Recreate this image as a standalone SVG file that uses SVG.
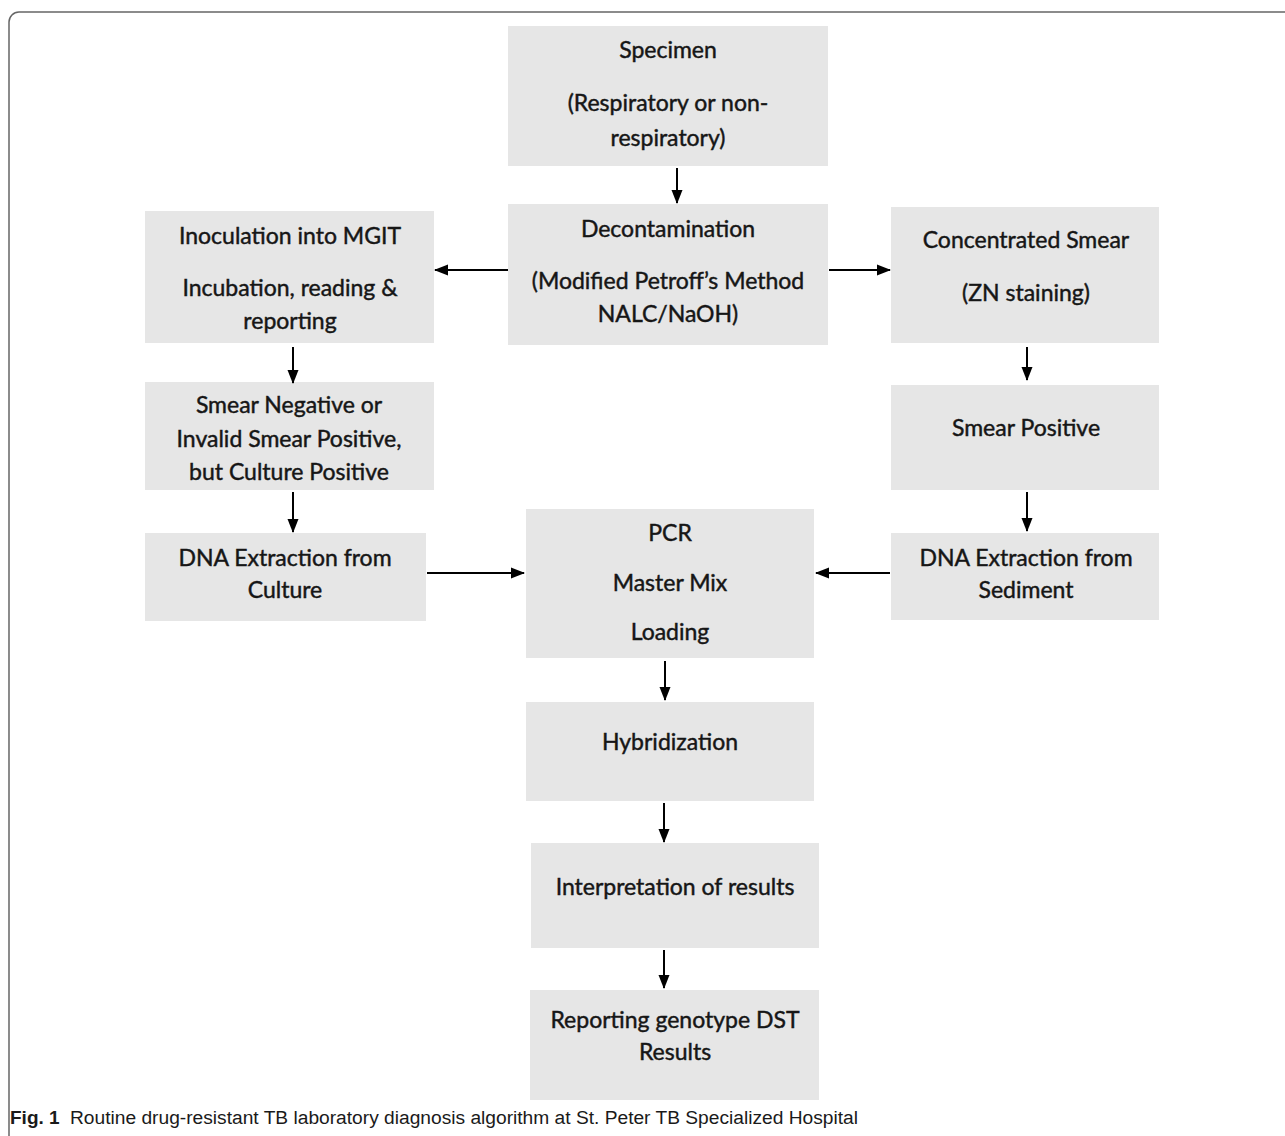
<svg xmlns="http://www.w3.org/2000/svg" width="1285" height="1136" viewBox="0 0 1285 1136">
<style>
.box{fill:#e6e6e6;}
.t{font-family:Lato,"Liberation Sans",sans-serif;font-size:23px;fill:#161616;stroke:#161616;stroke-width:0.45;text-anchor:middle;}
.c{stroke:#000;stroke-width:2;fill:none;}
.cap{font-family:"Liberation Sans",sans-serif;font-size:18px;fill:#1a1a1a;}
</style>
<defs>
<marker id="ah" markerWidth="14" markerHeight="12" refX="13" refY="6" orient="auto" markerUnits="userSpaceOnUse">
<path d="M0,0.5 L14,6 L0,11.5 Z" fill="#000"/>
</marker>
</defs>
<rect width="1285" height="1136" fill="#fff"/>
<rect x="9" y="12" width="1300" height="1150" rx="10" ry="10" fill="none" stroke="#666" stroke-width="1.5"/>

<g id="n-specimen">
<rect class="box" x="508" y="26" width="320" height="140"/>
<text class="t" x="668" y="58">Specimen</text>
<text class="t" x="668" y="111">(Respiratory or non-</text>
<text class="t" x="668" y="146">respiratory)</text>
</g>
<g id="n-decon">
<rect class="box" x="508" y="204" width="320" height="141"/>
<text class="t" x="668" y="237">Decontamination</text>
<text class="t" x="668" y="289">(Modified Petroff’s Method</text>
<text class="t" x="668" y="322">NALC/NaOH)</text>
</g>
<g id="n-inoc">
<rect class="box" x="145" y="211" width="289" height="132"/>
<text class="t" x="290" y="244">Inoculation into MGIT</text>
<text class="t" x="290" y="296">Incubation, reading &amp;</text>
<text class="t" x="290" y="329">reporting</text>
</g>
<g id="n-conc">
<rect class="box" x="891" y="207" width="268" height="136"/>
<text class="t" x="1026" y="248">Concentrated Smear</text>
<text class="t" x="1026" y="301">(ZN staining)</text>
</g>
<g id="n-smearneg">
<rect class="box" x="145" y="382" width="289" height="108"/>
<text class="t" x="289" y="413">Smear Negative or</text>
<text class="t" x="289" y="447">Invalid Smear Positive,</text>
<text class="t" x="289" y="480">but Culture Positive</text>
</g>
<g id="n-smearpos">
<rect class="box" x="891" y="385" width="268" height="105"/>
<text class="t" x="1026" y="436">Smear Positive</text>
</g>
<g id="n-dnaculture">
<rect class="box" x="145" y="533" width="281" height="88"/>
<text class="t" x="285" y="566">DNA Extraction from</text>
<text class="t" x="285" y="598">Culture</text>
</g>
<g id="n-dnased">
<rect class="box" x="891" y="533" width="268" height="87"/>
<text class="t" x="1026" y="566">DNA Extraction from</text>
<text class="t" x="1026" y="598">Sediment</text>
</g>
<g id="n-pcr">
<rect class="box" x="526" y="509" width="288" height="149"/>
<text class="t" x="670" y="541">PCR</text>
<text class="t" x="670" y="591">Master Mix</text>
<text class="t" x="670" y="640">Loading</text>
</g>
<g id="n-hyb">
<rect class="box" x="526" y="702" width="288" height="99"/>
<text class="t" x="670" y="750">Hybridization</text>
</g>
<g id="n-interp">
<rect class="box" x="531" y="843" width="288" height="105"/>
<text class="t" x="675" y="895">Interpretation of results</text>
</g>
<g id="n-report">
<rect class="box" x="530" y="990" width="289" height="110"/>
<text class="t" x="675" y="1028">Reporting genotype DST</text>
<text class="t" x="675" y="1060">Results</text>
</g>

<g id="connectors">
<line class="c" x1="677" y1="168" x2="677" y2="203" marker-end="url(#ah)"/>
<line class="c" x1="508" y1="270" x2="435" y2="270" marker-end="url(#ah)"/>
<line class="c" x1="829" y1="270" x2="890" y2="270" marker-end="url(#ah)"/>
<line class="c" x1="293" y1="347" x2="293" y2="383" marker-end="url(#ah)"/>
<line class="c" x1="1027" y1="347" x2="1027" y2="380" marker-end="url(#ah)"/>
<line class="c" x1="293" y1="492" x2="293" y2="532" marker-end="url(#ah)"/>
<line class="c" x1="1027" y1="492" x2="1027" y2="531" marker-end="url(#ah)"/>
<line class="c" x1="427" y1="573" x2="524" y2="573" marker-end="url(#ah)"/>
<line class="c" x1="890" y1="573" x2="816" y2="573" marker-end="url(#ah)"/>
<line class="c" x1="665" y1="661" x2="665" y2="700" marker-end="url(#ah)"/>
<line class="c" x1="664" y1="803" x2="664" y2="842" marker-end="url(#ah)"/>
<line class="c" x1="664" y1="950" x2="664" y2="988" marker-end="url(#ah)"/>
</g>

<text class="cap" x="10" y="1124"><tspan font-weight="bold" font-size="19">Fig. 1</tspan><tspan x="70" textLength="788" lengthAdjust="spacingAndGlyphs">Routine drug-resistant TB laboratory diagnosis algorithm at St. Peter TB Specialized Hospital</tspan></text>
</svg>
